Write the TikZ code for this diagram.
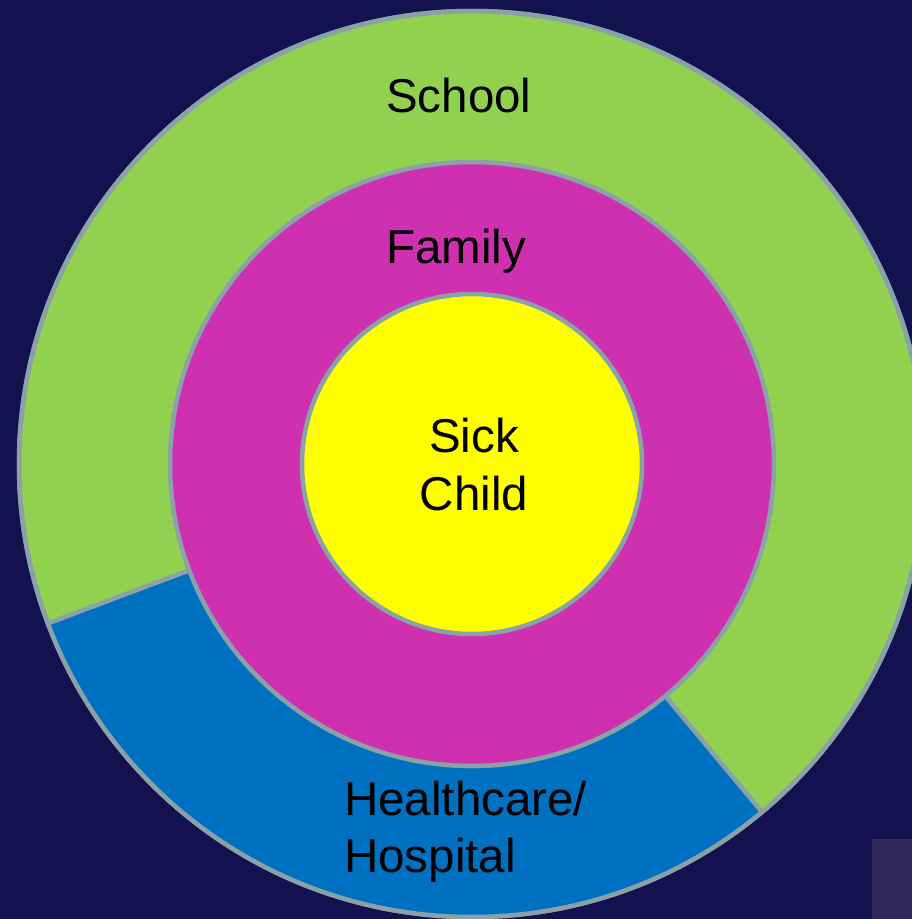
\documentclass[tikz,border=0pt]{standalone}
\usepackage{fontspec}
\setmainfont{Liberation Sans}
\usetikzlibrary{calc}
\definecolor{bgnavy}{HTML}{13114F}
\definecolor{ringgreen}{HTML}{92D050}
\definecolor{ringmagenta}{HTML}{CF30B0}
\definecolor{coreyellow}{HTML}{FFFF00}
\definecolor{segblue}{HTML}{0070C0}
\definecolor{edgegrey}{HTML}{8AA1A8}
\definecolor{cornerbox}{HTML}{2E2758}
\tikzset{
  ring/.style={circle, inner sep=0pt, outer sep=0pt, draw=edgegrey, line width=4.5pt},
  lbl/.style={font=\fontsize{47.5}{57}\selectfont, text=black, inner sep=0pt},
}
\begin{document}
\begin{tikzpicture}[x=1pt,y=-1pt]
\useasboundingbox (0,0) rectangle (912,919);
\fill[bgnavy] (0,0) rectangle (912,919);
\fill[cornerbox] (872,839) rectangle (912,919);
\coordinate (c) at (472,464);
% outer ring (School)
\node[ring, fill=ringgreen, minimum size=906pt] (outer) at (c) {};
% blue sector (Healthcare/Hospital)
\coordinate (bl1) at ($(c)+(200.6:453 and -453)$);
\coordinate (bl2) at ($(c)+(200.6:302 and -302)$);
\coordinate (br1) at ($(c)+(309.8:453 and -453)$);
\coordinate (br2) at ($(c)+(309.8:302 and -302)$);
\fill[segblue] (bl1) arc[start angle=-200.6, end angle=-309.8, radius=453]
  -- (br2) arc[start angle=-309.8, end angle=-200.6, radius=302] -- cycle;
\draw[edgegrey, line width=4.5pt] (bl1) -- (bl2);
\draw[edgegrey, line width=4.5pt] (br1) -- (br2);
\draw[edgegrey, line width=4.5pt] (outer.center) circle[radius=453];
% middle ring (Family)
\node[ring, fill=ringmagenta, minimum size=604pt] (middle) at (c) {};
% core (Sick Child)
\node[ring, fill=coreyellow, minimum size=340pt] (core) at (c) {};
% labels
\node[lbl, anchor=base west] (school) at (386,112) {School};
\node[lbl, anchor=base west] (family) at (386,263) {Family};
\node[lbl, anchor=base] (sick) at (474,452) {Sick};
\node[lbl, anchor=base] (child) at (474,510) {Child};
\node[lbl, anchor=base west] (health) at (344,815) {Healthcare/};
\node[lbl, anchor=base west] (hosp) at (344,872) {Hospital};
\end{tikzpicture}
\end{document}
